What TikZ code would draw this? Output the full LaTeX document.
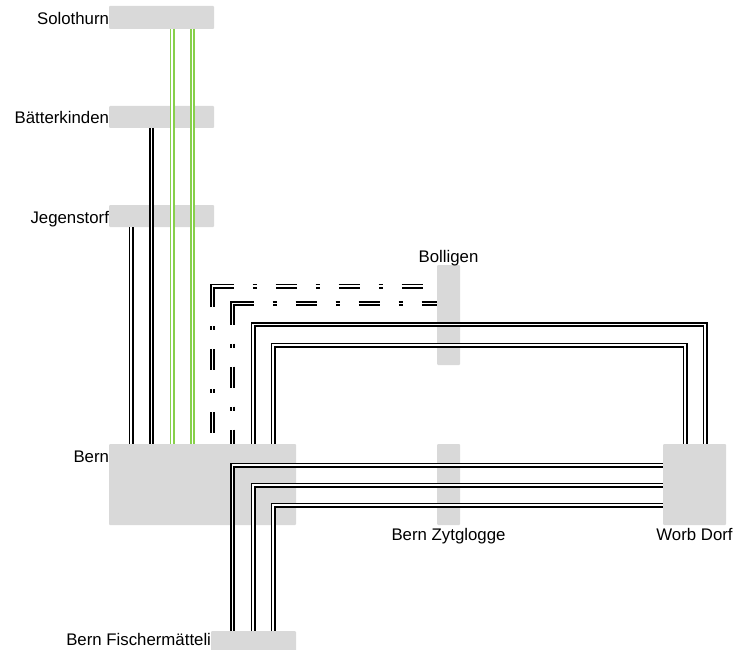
\documentclass[tikz,border=0pt]{standalone}
\usepackage{fontspec}
\setmainfont{Liberation Sans}
\definecolor{stgray}{RGB}{217,217,217}
\definecolor{railgreen}{RGB}{135,208,75}
\begin{document}
\begin{tikzpicture}[x=1pt,y=-1pt,
  station/.style={fill=stgray, draw=none, inner sep=0pt, outer sep=0pt, rounded corners=1pt},
  rail/.style={draw=black, line width=1.8pt, double=white, double distance=1.4pt},
  grail/.style={draw=railgreen, line width=1.8pt, double=white, double distance=1.4pt},
  dashdot/.style={rail, dash pattern=on 21pt off 19pt on 4pt off 19pt, dash phase=21pt},
  lbl/.style={font=\fontsize{16.8}{20}\selectfont, inner sep=0pt, outer sep=0pt}]
\useasboundingbox (0,0) rectangle (736,650);
% stations
\node[station, minimum width=105pt, minimum height=23pt] (sol) at (161.5,17.5) {};
\node[station, minimum width=105pt, minimum height=22pt] (bat) at (161.5,117) {};
\node[station, minimum width=105pt, minimum height=22pt] (jeg) at (161.5,216) {};
\node[station, minimum width=23pt, minimum height=100pt] (bol) at (448.5,315) {};
\node[station, minimum width=187pt, minimum height=81pt] (bern) at (202.5,484.5) {};
\node[station, minimum width=23pt, minimum height=81pt] (zyt) at (448.5,484.5) {};
\node[station, minimum width=63pt, minimum height=81pt] (worb) at (694.5,484.5) {};
\node[station, minimum width=85pt, minimum height=22pt] (fis) at (253.5,642) {};
% labels
\node[lbl, anchor=base east] (lsol) at ([yshift=-7pt]sol.west) {Solothurn};
\node[lbl, anchor=base east] (lbat) at ([yshift=-7pt]bat.west) {Bätterkinden};
\node[lbl, anchor=base east] (ljeg) at ([yshift=-7pt]jeg.west) {Jegenstorf};
\node[lbl, anchor=base east] (lbern) at ([yshift=-18pt]bern.north west) {Bern};
\node[lbl, anchor=base] (lbol) at ([yshift=3pt]bol.north) {Bolligen};
\node[lbl, anchor=base] (lzyt) at ([yshift=-15pt]zyt.south) {Bern Zytglogge};
\node[lbl, anchor=base] (lworb) at ([yshift=-15pt]worb.south) {Worb Dorf};
\node[lbl, anchor=base east] (lfis) at ([yshift=-3pt]fis.west) {Bern Fischermätteli};
% northern lines
\draw[rail] (131,0 |- jeg.south) -- (131,0 |- bern.north);
\draw[rail] (151.5,0 |- bat.south) -- (151.5,0 |- bern.north);
\draw[grail] (172,0 |- sol.south) -- (172,0 |- bern.north);
\draw[grail] (192.5,0 |- sol.south) -- (192.5,0 |- bern.north);
% dash-dot lines to Bolligen
\coordinate (c1) at (212.5,286);
\coordinate (c2) at (232.5,303.5);
\draw[rail] ([yshift=-21pt]c1) -- (c1) -- ([xshift=21pt]c1);
\draw[dashdot] ([xshift=21pt]c1) -- (bol.west |- c1);
\draw[dashdot] ([yshift=-21pt]c1) -- (c1 |- bern.north);
\draw[rail] ([yshift=-21pt]c2) -- (c2) -- ([xshift=21pt]c2);
\draw[dashdot] ([xshift=21pt]c2) -- (bol.west |- c2);
\draw[dashdot] ([yshift=-21pt]c2) -- (c2 |- bern.north);
% Bern - Worb via Bolligen
\draw[rail] (253,0 |- bern.north) -- (253,324.5) -- (705,324.5) -- (705,0 |- worb.north);
\draw[rail] (273,0 |- bern.north) -- (273,345) -- (685,345) -- (685,0 |- worb.north);
% Fischermaetteli - Worb via Zytglogge
\draw[rail] (232.5,0 |- fis.north) -- (232.5,465) -- (worb.west |- 0,465);
\draw[rail] (253,0 |- fis.north) -- (253,485) -- (worb.west |- 0,485);
\draw[rail] (273,0 |- fis.north) -- (273,505) -- (worb.west |- 0,505);
\end{tikzpicture}
\end{document}
